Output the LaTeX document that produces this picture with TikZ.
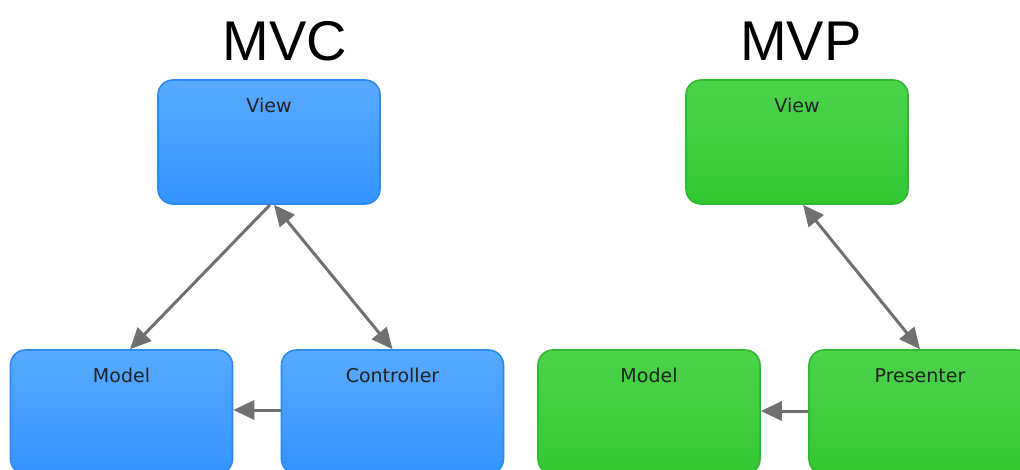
\documentclass[tikz,border=0pt]{standalone}
\usepackage{fontspec}
\usetikzlibrary{arrows.meta}
\newfontfamily\titlefont{Liberation Sans}
\newfontfamily\boxfont{DejaVu Sans}

\definecolor{mvctop}{HTML}{58AAFF}
\definecolor{mvcbot}{HTML}{3493FF}
\definecolor{mvcedge}{HTML}{2A8AF2}
\definecolor{mvptop}{HTML}{4CD34C}
\definecolor{mvpbot}{HTML}{33C733}
\definecolor{mvpedge}{HTML}{2FB92F}
\definecolor{arrgray}{HTML}{707070}
\definecolor{labtext}{HTML}{222222}

\tikzset{
  box/.style={rounded corners=15pt, minimum width=222pt, minimum height=124pt,
              line width=1.6pt, inner sep=0pt},
  mvcbox/.style={box, draw=mvcedge, top color=mvctop, bottom color=mvcbot},
  mvpbox/.style={box, draw=mvpedge, top color=mvptop, bottom color=mvpbot},
  heading/.style={font=\titlefont\fontsize{56}{60}\selectfont, text=black, anchor=base},
  boxlabel/.style={font=\boxfont\fontsize{19}{22}\selectfont, text=labtext, anchor=base, inner sep=0pt},
  arr/.style={draw=arrgray, line width=3pt, -{Triangle[length=21pt,width=19pt]}},
  darr/.style={draw=arrgray, line width=3pt, {Triangle[length=21pt,width=19pt]}-{Triangle[length=21pt,width=19pt]}},
}

\begin{document}
\begin{tikzpicture}[x=1pt,y=1pt]
  \useasboundingbox (0,0) rectangle (1020,-469);
  \clip (0,0) rectangle (1020,-469);

  % headings
  \node[heading] (tmvc) at (285,-60) {MVC};
  \node[heading] (tmvp) at (801,-60) {MVP};

  % MVC boxes
  \node[mvcbox] (v1) at (269,-142) {};
  \node[mvcbox] (m1) at (121.5,-412) {};
  \node[mvcbox] (c1) at (392.5,-412) {};
  % MVP boxes
  \node[mvpbox] (v2) at (797,-142) {};
  \node[mvpbox] (m2) at (649,-412) {};
  \node[mvpbox] (p2) at (920,-412) {};

  % box captions
  \node[boxlabel] (lv1) at ([yshift=-33pt]v1.north) {View};
  \node[boxlabel] (lm1) at ([yshift=-33pt]m1.north) {Model};
  \node[boxlabel] (lc1) at ([yshift=-33pt]c1.north) {Controller};
  \node[boxlabel] (lv2) at ([yshift=-33pt]v2.north) {View};
  \node[boxlabel] (lm2) at ([yshift=-33pt]m2.north) {Model};
  \node[boxlabel] (lp2) at ([yshift=-33pt]p2.north) {Presenter};

  % MVC connectors
  \draw[arr]  ([xshift=1pt]v1.south) -- ([xshift=8.5pt]m1.north);
  \draw[darr] ([xshift=5pt]v1.south) -- (c1.north);
  \draw[arr]  ([yshift=2pt]c1.west) -- ([yshift=2pt]m1.east);

  % MVP connectors
  \draw[darr] ([xshift=6pt]v2.south) -- (p2.north);
  \draw[arr]  ([yshift=1pt]p2.west) -- ([yshift=1pt]m2.east);
\end{tikzpicture}
\end{document}
